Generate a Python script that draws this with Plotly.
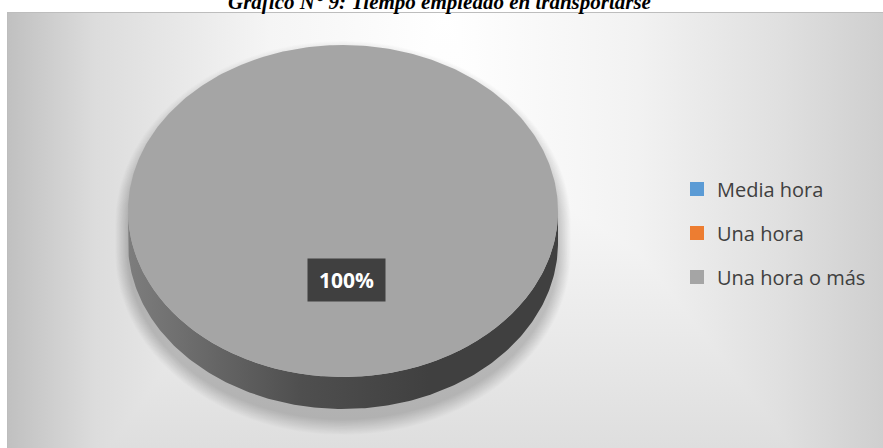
import base64
import numpy as np
import plotly.graph_objects as go

# ---------------- data ----------------
categories = ["Media hora", "Una hora", "Una hora o más"]
values = [0, 0, 100]
colors = ["#5B9BD5", "#ED7D31", "#A5A5A5"]
title_text = "Gráfico N° 9: Tiempo empleado en transportarse"

# ---------------- geometry (pixel-like axis units) ----------------
W, H = 883, 448
CX, CY, RX, RY, DEPTH = 343, 211, 215, 166, 32
LABEL_R = 0.415


def ell(theta, dy=0.0, grow=0.0, growx=None):
    th = np.asarray(theta, dtype=float)
    gx = grow if growx is None else growx
    return CX + (RX + gx) * np.sin(th), CY - (RY + grow) * np.cos(th) + dy


def shade(hexcol, f):
    h = hexcol.lstrip("#")
    r, g, b = (int(h[i:i + 2], 16) for i in (0, 2, 4))
    return "rgb({},{},{})".format(int(r * f), int(g * f), int(b * f))


fig = go.Figure()

# soft shadow below the pie
for g in range(1, 17):
    a = np.linspace(-np.pi / 2, np.pi / 2, 120)
    xt, yt = ell(a, dy=12, grow=g, growx=0.8 * g)
    b = np.linspace(np.pi / 2, 3 * np.pi / 2, 120)
    xb, yb = ell(b, dy=10 + DEPTH, grow=g, growx=0.8 * g)
    fig.add_trace(go.Scatter(x=np.r_[xt, xb], y=np.r_[yt, yb], mode="lines",
                             line=dict(width=0), fill="toself",
                             fillcolor="rgba(0,0,0,0.012)", hoverinfo="skip",
                             showlegend=False))

total = float(sum(values))
cum = np.cumsum([0] + list(values)) / total * 2 * np.pi

# side walls (front half only)
for i, v in enumerate(values):
    if v <= 0:
        continue
    a0, a1 = cum[i], cum[i + 1]
    s, e = max(a0, np.pi / 2), min(a1, 3 * np.pi / 2)
    if e <= s:
        continue
    t = np.linspace(s, e, 200)
    xt, yt = ell(t)
    xb, yb = ell(t[::-1], dy=DEPTH)
    fig.add_trace(go.Scatter(
        x=np.r_[xt, xb], y=np.r_[yt, yb], mode="lines", line=dict(width=0),
        fill="toself",
        fillgradient=dict(type="horizontal", start=CX - RX, stop=CX + RX,
                          colorscale=[[0, shade(colors[i], 0.76)],
                                      [0.4, shade(colors[i], 0.48)],
                                      [0.7, shade(colors[i], 0.39)],
                                      [1, shade(colors[i], 0.39)]]),
        hoverinfo="skip", showlegend=False))

# top faces
for i, v in enumerate(values):
    if v <= 0:
        continue
    a0, a1 = cum[i], cum[i + 1]
    t = np.linspace(a0, a1, 400)
    xt, yt = ell(t)
    if a1 - a0 < 2 * np.pi - 1e-9:
        xt, yt = np.r_[CX, xt, CX], np.r_[CY, yt, CY]
    fig.add_trace(go.Scatter(x=xt, y=yt, mode="lines", line=dict(width=0),
                             fill="toself", fillcolor=colors[i],
                             hoverinfo="skip", showlegend=False))

# legend entries
for cat, col in zip(categories, colors):
    fig.add_trace(go.Scatter(x=[None], y=[None], mode="markers", name=cat,
                             legendgroup=cat,
                             marker=dict(symbol="square", size=14, color=col,
                                         line=dict(width=0))))

# data labels
for i, v in enumerate(values):
    if v <= 0:
        continue
    mid = (cum[i] + cum[i + 1]) / 2
    lx = CX + LABEL_R * RX * np.sin(mid)
    ly = CY - LABEL_R * RY * np.cos(mid)
    fig.add_annotation(x=lx + 3, y=ly, xref="x", yref="y",
                       text="<b>{:.0f}%</b>".format(v / total * 100),
                       showarrow=False, bgcolor="#404040", width=77, height=42,
                       borderpad=0, align="center", valign="middle",
                       font=dict(family="Open Sans", size=21, color="white"))

# title (mostly cut off at top as in the original)
fig.add_annotation(x=439 / W, y=1 - 2 / H, xref="paper", yref="paper",
                   text="<b><i>" + title_text + "</i></b>", showarrow=False,
                   xanchor="center", yanchor="middle",
                   font=dict(family="Liberation Serif", size=21, color="black"))

# background of chart area
svg = """<svg xmlns="http://www.w3.org/2000/svg" width="876" height="436" viewBox="0 0 876 436" preserveAspectRatio="none">
<defs>
<linearGradient id="h" x1="0" y1="0" x2="1" y2="0">
<stop offset="0" stop-color="#c0c0c0"/>
<stop offset="0.1" stop-color="#dcdcdc"/>
<stop offset="0.3" stop-color="#f5f5f5"/>
<stop offset="0.5" stop-color="#ffffff"/>
<stop offset="0.72" stop-color="#f2f2f2"/>
<stop offset="0.88" stop-color="#e0e0e0"/>
<stop offset="1" stop-color="#cfcfcf"/>
</linearGradient>
<linearGradient id="v" x1="0" y1="0" x2="0" y2="1">
<stop offset="0" stop-color="#ffffff"/>
<stop offset="0.35" stop-color="#fbfbfb"/>
<stop offset="1" stop-color="#dedede"/>
</linearGradient>
</defs>
<rect x="0" y="0" width="876" height="436" fill="url(#h)"/>
<rect x="0" y="0" width="876" height="436" fill="url(#v)" style="mix-blend-mode:darken"/>
<rect x="0.5" y="0.5" width="880" height="440" fill="none" stroke="#bdbdbd" stroke-width="1"/>
</svg>"""
uri = "data:image/svg+xml;base64," + base64.b64encode(svg.encode("utf-8")).decode("ascii")
fig.add_layout_image(source=uri, xref="paper", yref="paper", x=7 / W, y=1 - 12 / H,
                     sizex=876 / W, sizey=436 / H, xanchor="left", yanchor="top",
                     sizing="stretch", layer="below")

fig.update_layout(
    width=W, height=H, margin=dict(l=0, r=0, t=0, b=0, pad=0),
    paper_bgcolor="white", plot_bgcolor="rgba(0,0,0,0)",
    xaxis=dict(range=[0, W], visible=False, fixedrange=True),
    yaxis=dict(range=[H, 0], visible=False, fixedrange=True),
    showlegend=True,
    legend=dict(x=677 / W, xanchor="left", y=1 - 233 / H, yanchor="middle",
                bgcolor="rgba(0,0,0,0)", tracegroupgap=15,
                font=dict(family="Open Sans", size=20, color="#404040")),
    hovermode=False,
)

fig.write_html("out.html",
               config={"displayModeBar": False, "staticPlot": True},
               post_script="document.body.style.margin='0';"
                           "document.body.style.overflow='hidden';")
